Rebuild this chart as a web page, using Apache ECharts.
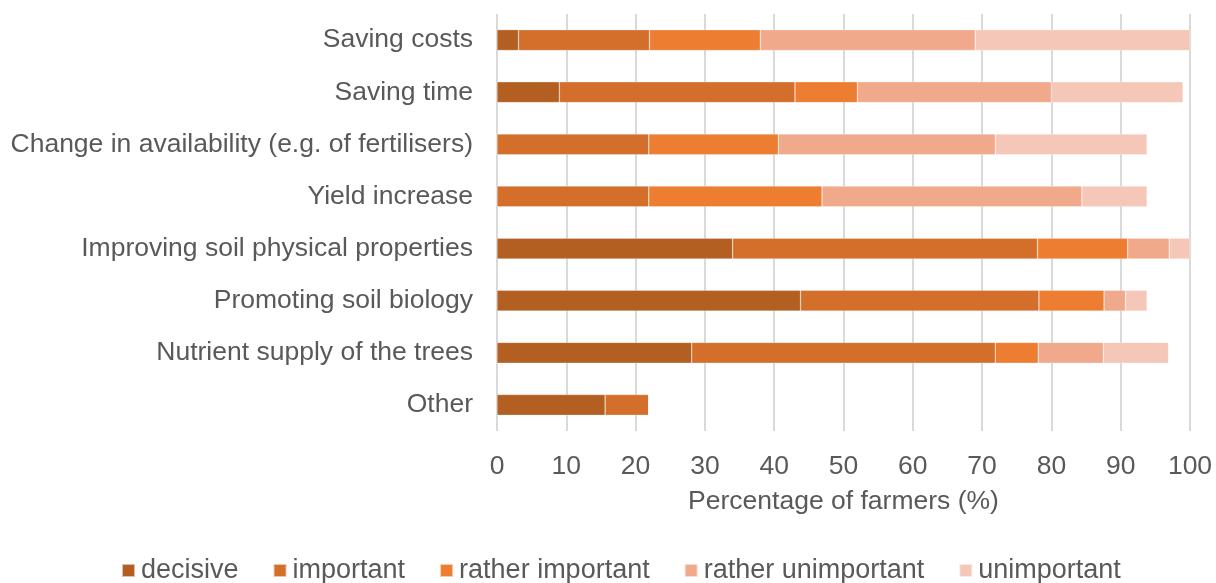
<!DOCTYPE html>
<html>
<head>
<meta charset="utf-8">
<script src="https://cdn.jsdelivr.net/npm/echarts@6/dist/echarts.min.js"></script>
<style>
    html, body { margin: 0; padding: 0; background: #fff; }
    #chart { width: 1216px; height: 583px; }
</style>
</head>
<body>
<div id="chart"></div>
<script>
// categories, top to bottom
const categories = [
    'Saving costs',
    'Saving time',
    'Change in availability (e.g. of fertilisers)',
    'Yield increase',
    'Improving soil physical properties',
    'Promoting soil biology',
    'Nutrient supply of the trees',
    'Other'
];

// share of farmers per answer (%)
const decisive = [3.1, 9, 0, 0, 34, 43.8, 28.1, 15.6];
const important = [18.9, 34, 21.9, 21.9, 44, 34.4, 43.8, 6.3];
const ratherImportant = [16, 9, 18.7, 25, 13, 9.4, 6.2, 0];
const ratherUnimportant = [31, 28, 31.3, 37.5, 6, 3.1, 9.4, 0];
const unimportant = [31, 19, 21.9, 9.4, 3, 3.1, 9.4, 0];

const xTicks = [0, 100, 10];

const seriesDefs = [
    ['decisive', decisive, '#b45f22'],
    ['important', important, '#d36f2b'],
    ['rather important', ratherImportant, '#ed7d31'],
    ['rather unimportant', ratherUnimportant, '#f1a98b'],
    ['unimportant', unimportant, '#f5c7b8']
];

const textColor = '#595959';
const font = 'Liberation Sans, Arial, sans-serif';

const option = {
    animation: false,
    textStyle: { fontFamily: font },
    grid: {
        left: 497,
        right: 26,
        top: 14,
        bottom: 152
    },
    legend: {
        top: 557,
        left: 121,
        itemWidth: 13,
        itemHeight: 13,
        itemGap: 34,
        icon: 'rect',
        padding: 0,
        textStyle: { color: textColor, fontSize: 27, fontFamily: font, padding: [0, 0, 0, 1] },
        data: seriesDefs.map(d => d[0])
    },
    xAxis: {
        type: 'value',
        min: xTicks[0],
        max: xTicks[1],
        interval: xTicks[2],
        name: 'Percentage of farmers (%)',
        nameLocation: 'middle',
        nameGap: 57,
        nameTextStyle: { color: textColor, fontSize: 26.5, fontFamily: font },
        axisLine: { show: false },
        axisTick: { show: false },
        axisLabel: { color: textColor, fontSize: 26.5, margin: 22, fontFamily: font },
        splitLine: { show: true, lineStyle: { color: '#d9d9d9', width: 2 } }
    },
    yAxis: {
        type: 'category',
        inverse: true,
        data: categories,
        axisLine: { show: false },
        axisTick: { show: false },
        axisLabel: { color: textColor, fontSize: 26.5, margin: 24, fontFamily: font }
    },
    series: seriesDefs.map(([name, data, color]) => ({
        name,
        type: 'bar',
        stack: 'total',
        barWidth: '40%',
        data,
        itemStyle: { color, borderColor: 'rgba(255,255,255,0.6)', borderWidth: 0.5 }
    }))
};

const chart = echarts.init(document.getElementById('chart'));
chart.setOption(option);
</script>
</body>
</html>
